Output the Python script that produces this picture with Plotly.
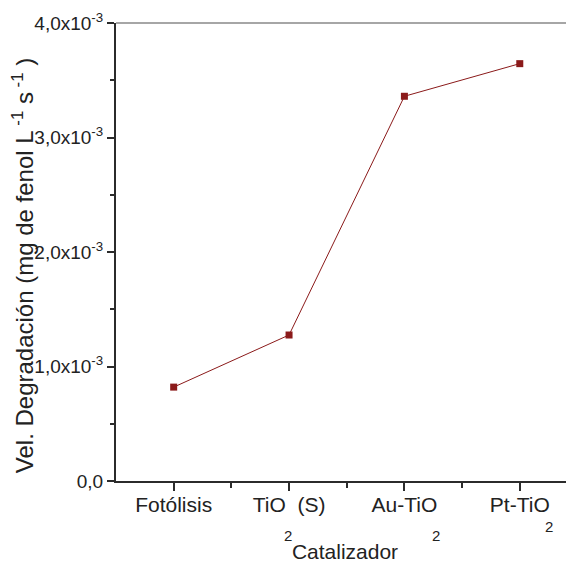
import plotly.graph_objects as go

categories = ["Fotólisis", "TiO\u00a0\u00a0(S)", "Au-TiO", "Pt-TiO"]
cat_pos = [0, 1, 2, 3]
rates = [0.82e-3, 1.275e-3, 3.36e-3, 3.645e-3]
ytick_vals = [0, 1e-3, 2e-3, 3e-3, 4e-3]
ytick_text = ["0,0", "1,0x10<sup>-3</sup>", "2,0x10<sup>-3</sup>",
              "3,0x10<sup>-3</sup>", "4,0x10<sup>-3</sup>"]
y_title = "Vel. Degradación (mg de fenol L<sup> -1</sup> s<sup> -1</sup> )"
x_title = "Catalizador"

red = "#8b1a1a"
axis_col = "#2b2b2b"
font_main = "Liberation Sans, Arial, sans-serif"
font_narrow = "Liberation Sans Narrow, Arial Narrow, Liberation Sans, sans-serif"

fig = go.Figure()
fig.add_trace(go.Scatter(
    x=cat_pos, y=rates, mode="lines+markers",
    line=dict(color=red, width=1),
    marker=dict(symbol="square", size=7, color=red),
    showlegend=False,
))

# page body has an 8px margin, so offsets are compensated here
fig.update_layout(
    width=574, height=564,
    margin=dict(l=108, r=8, t=15, b=91),
    plot_bgcolor="white", paper_bgcolor="white",
    font=dict(family=font_main, color="#222"),
)
fig.update_xaxes(
    range=[-0.5, 3.47], tickvals=cat_pos, ticktext=categories,
    automargin=False,
    showgrid=False, zeroline=False,
    showline=True, linecolor=axis_col, linewidth=2,
    ticks="outside", ticklen=8, tickwidth=1.5, tickcolor=axis_col,
    ticklabelstandoff=-4, ticklabeloverflow="allow",
    tickfont=dict(family=font_main, size=21, color="#222"),
    minor=dict(tickvals=[0.5, 1.5, 2.5, 3.5], ticks="outside", ticklen=5,
               tickwidth=1.5, tickcolor=axis_col, showgrid=False),
    title=dict(text=x_title, font=dict(family=font_narrow, size=21, color="#222"),
               standoff=29),
)
fig.update_yaxes(
    range=[0, 4e-3], tickvals=ytick_vals, ticktext=ytick_text,
    automargin=False, ticklabeloverflow="allow",
    showgrid=False, zeroline=False,
    showline=True, linecolor=axis_col, linewidth=2,
    ticks="outside", ticklen=7, tickwidth=1.5, tickcolor=axis_col,
    tickfont=dict(family=font_narrow, size=19, color="#222"),
    minor=dict(dtick=0.5e-3, ticks="outside", ticklen=4, tickwidth=1.5,
               tickcolor=axis_col, showgrid=False),
)
fig.add_annotation(x=-0.203, y=0.469, xref="paper", yref="paper", text=y_title,
                   textangle=-90, showarrow=False, xanchor="center", yanchor="middle",
                   font=dict(family=font_main, size=24, color="#222"))
fig.add_shape(type="line", xref="paper", yref="paper", x0=0, x1=1, y0=1, y1=1,
              line=dict(color="#888", width=1.5))

subs = [(0.99, -0.118), (2.27, -0.118), (3.25, -0.10)]
for sx, sy in subs:
    fig.add_annotation(x=sx, y=sy, xref="x", yref="paper", text="2", showarrow=False,
                       yanchor="middle",
                       font=dict(family=font_narrow, size=15, color="#222"))

fig.write_html("out.html")
